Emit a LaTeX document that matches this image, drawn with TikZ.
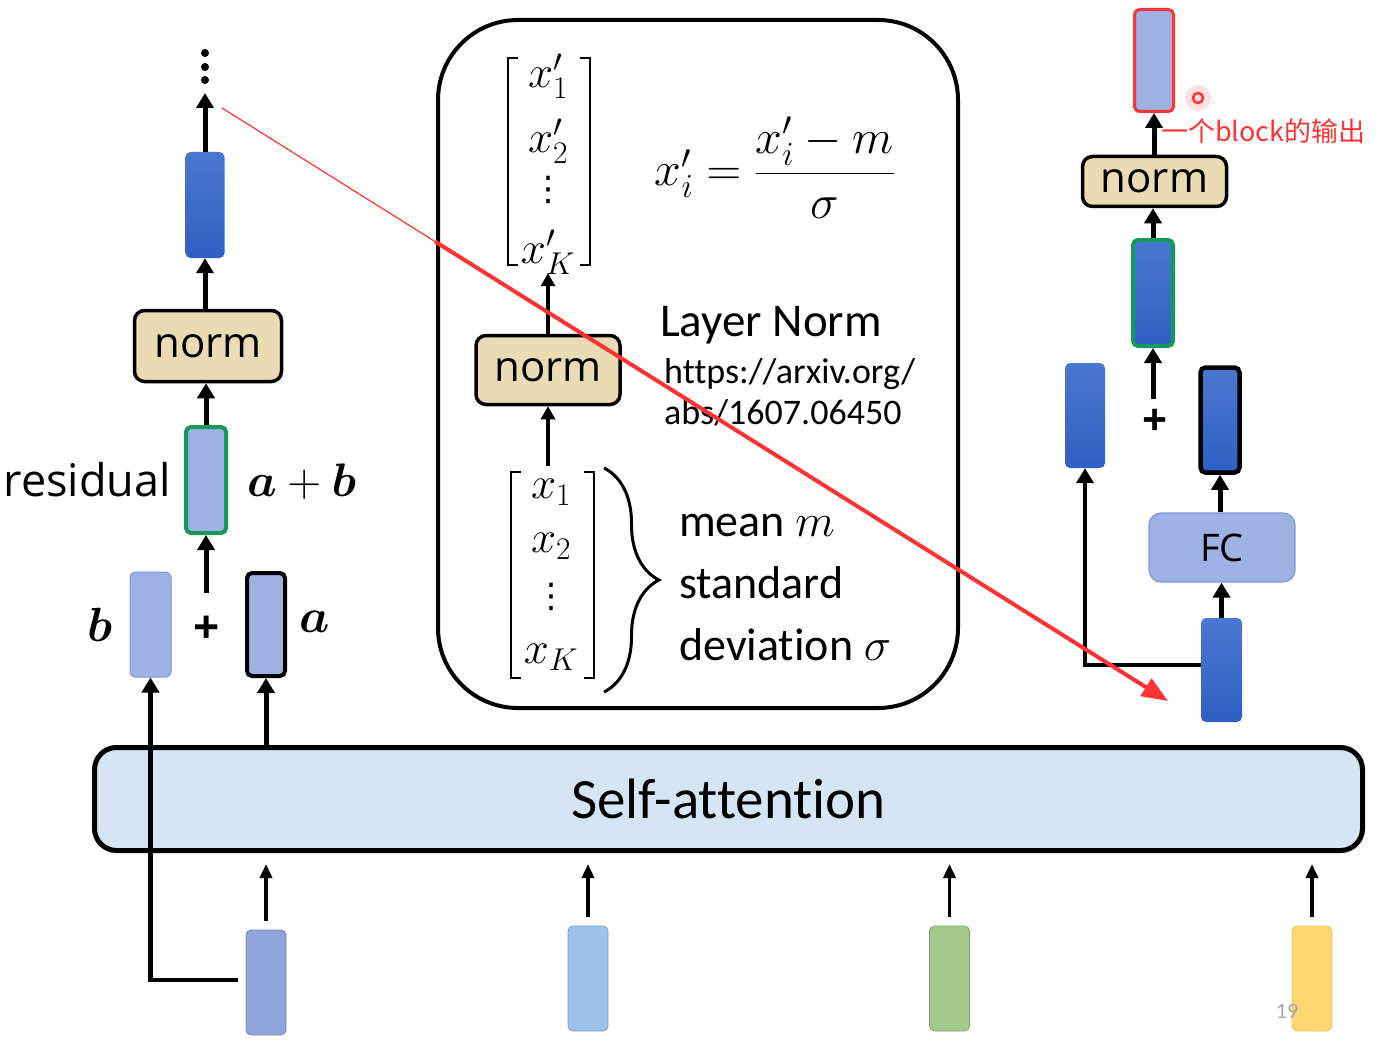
\RequirePackage{fix-cm}
\documentclass[tikz,border=0pt]{standalone}
\usepackage{amsmath,bm}
\usepackage{fontspec}
\newfontfamily\yahei{Open Sans}
\newfontfamily\calib[Ligatures=NoCommon]{Carlito}
\newfontfamily\cjk{Noto Sans CJK SC}
\newfontfamily\symb{DejaVu Sans}
\usetikzlibrary{arrows.meta,positioning,decorations.pathreplacing}

\definecolor{lightvec}{HTML}{9DB1E2}
\definecolor{lightedge}{HTML}{7F97D6}
\definecolor{darktop}{HTML}{4A78D0}
\definecolor{darkbot}{HTML}{2F5FC4}
\definecolor{normtan}{HTML}{EADBB4}
\definecolor{attnblue}{HTML}{D6E5F5}
\definecolor{resgreen}{HTML}{13995A}
\definecolor{annred}{HTML}{FF3333}
\definecolor{inpurple}{HTML}{8FA4DB}
\definecolor{inblue}{HTML}{9CC3EA}
\definecolor{ingreen}{HTML}{A3C98B}
\definecolor{inyellow}{HTML}{FFD770}

\begin{document}
\begin{tikzpicture}[x=1pt,y=-1pt,
    vec/.style={rounded corners=5pt,minimum width=40pt,minimum height=105pt,inner sep=0pt},
    lightv/.style={vec,fill=lightvec,draw=lightedge,line width=1pt},
    darkv/.style={vec,top color=darktop,bottom color=darkbot,draw=none},
    sumv/.style={vec,minimum height=106pt,line width=4pt},
    normbox/.style={draw,line width=3.5pt,fill=normtan,rounded corners=10pt,inner sep=0pt,
        font=\yahei\fontsize{42}{42}\selectfont},
    arr/.style={line width=5pt,-{Triangle[length=15pt,width=17pt]}},
    inarr/.style={line width=3.5pt,-{Triangle[length=14pt,width=12pt]}},
    bigmath/.style={font=\fontsize{48}{52}\selectfont},
    entry/.style={font=\fontsize{45}{45}\selectfont,inner sep=0pt},
    vdotsnode/.style={font=\symb\fontsize{34}{34}\selectfont,inner sep=0pt},
    bracketbox/.style={minimum width=82pt,minimum height=207pt,inner sep=0pt},
    sidetxt/.style={font=\calib\fontsize{46}{62}\selectfont,align=left,inner sep=0pt}]
    \useasboundingbox (0,0) rectangle (1378,1043);

    % self-attention layer and its inputs
    \node[draw,line width=5pt,fill=attnblue,rounded corners=22pt,minimum width=1268pt,minimum height=103pt,
        font=\calib\fontsize{57}{57}\selectfont] (attn) at (728.5,799) {Self-attention};
    \node[vec,fill=inpurple,draw=inpurple!80!black,line width=0.8pt] (in1) at (266,982.5) {};
    \node[vec,fill=inblue,draw=inblue!80!black,line width=0.8pt] (in2) at (588,978.5) {};
    \node[vec,fill=ingreen,draw=ingreen!80!black,line width=0.8pt] (in3) at (949.5,978.5) {};
    \node[vec,fill=inyellow,draw=inyellow!90!black,line width=0.8pt] (in4) at (1312,978.5) {};
    \foreach \i in {1,...,4}
        \draw[inarr,shorten <=9pt,shorten >=11pt] (in\i.north) -- (in\i.north |- attn.south);
    \node[font=\calib\fontsize{22}{22}\selectfont,text=black!35] (pagenum) at (1287,1011) {19};

    % left column: residual + norm
    \node[lightv,minimum width=41pt] (lb) at (150.5,624.5) {};
    \node[vec,fill=lightvec,draw=black,line width=4pt,minimum width=38pt,minimum height=103pt] (la) at (266,624.5) {};
    \node[font=\yahei\bfseries\fontsize{46}{46}\selectfont] (lplus) at (207,630) {+};
    \node[bigmath] (blabel) at (100,625) {$\bm{b}$};
    \node[bigmath] (alabel) at (315,622) {$\bm{a}$};
    \node[sumv,fill=lightvec,draw=resgreen] (lsum) at (206,480) {};
    \node[font=\yahei\fontsize{45}{45}\selectfont,anchor=east,inner sep=0pt] (residual) at (171,480) {residual};
    \node[font=\fontsize{47}{47}\selectfont,anchor=west,inner sep=0pt] (lab) at (247,482) {$\bm{a}+\bm{b}$};
    \node[normbox,minimum width=147pt,minimum height=71pt] (lnorm) at (208,346) {norm};
    \node[darkv,minimum width=39pt,minimum height=106pt] (ltop) at (205,205) {};
    \coordinate (ldots) at (205,93);
    \foreach \y in {53,67,80}
        \fill (205,\y) circle (4);

    \draw[arr] (la.south |- attn.north) -- (la.south);
    \draw[line width=4.5pt,-{Triangle[length=15pt,width=17pt]}] ([xshift=-8pt,yshift=2.5pt]in1.west) -| (lb.south);
    \draw[arr] ([yshift=37pt]lplus.center -| lsum.south) -- (lsum.south);
    \draw[arr] (lsum.north) -- (lsum.north |- lnorm.south);
    \draw[arr] (ltop.south |- lnorm.north) -- (ltop.south);
    \draw[arr] (ltop.north) -- (ldots);

    % middle panel: layer norm
    \draw[line width=4pt,rounded corners=80pt] (438,20) rectangle (958,708);
    \node[bracketbox] (vecout) at (549,161.5) {};
    \node[bracketbox,minimum width=83pt,minimum height=206pt] (vecin) at (552.5,575) {};
    \foreach \v in {vecout,vecin} {
        \draw[line width=2pt] ([xshift=10pt]\v.north west) -- (\v.north west) -- (\v.south west) -- ([xshift=10pt]\v.south west);
        \draw[line width=2pt] ([xshift=-10pt]\v.north east) -- (\v.north east) -- (\v.south east) -- ([xshift=-10pt]\v.south east);
    }
    \node[entry] (out1) at (548,76) {$x'_1$};
    \node[entry] (out2) at (548,141) {$x'_2$};
    \node[vdotsnode] (outd) at (548,190) {⋮};
    \node[entry] (outk) at (548,252) {$x'_K$};
    \node[entry] (in1e) at (551,492) {$x_1$};
    \node[entry] (in2e) at (551,546) {$x_2$};
    \node[vdotsnode] (inde) at (551,597) {⋮};
    \node[entry] (inke) at (551,657) {$x_K$};
    \node[normbox,minimum width=144pt,minimum height=69pt] (mnorm) at (548,370) {norm};
    \draw[line width=4pt,-{Triangle[length=13pt,width=14pt]}] ([yshift=6pt]mnorm.south |- vecin.north) -- (mnorm.south);
    \draw[line width=4pt,-{Triangle[length=13pt,width=14pt]}] (mnorm.north) -- ([yshift=-8pt]mnorm.north |- vecout.south);
    \draw[line width=3pt,decorate,decoration={brace,amplitude=55pt,aspect=0.5}] (604,468) -- (604,692);
    \node[bigmath] (formula) at (775,168) {$x'_i=\dfrac{x'_i-m}{\sigma}$};
    \node[sidetxt,font=\calib\fontsize{47}{47}\selectfont,anchor=west] (layernorm) at (660,325) {Layer Norm};
    \node[font=\calib\fontsize{36}{41}\selectfont,align=left,inner sep=0pt,anchor=west] (url) at (664,392)
        {https://arxiv.org/\\abs/1607.06450};
    \node[sidetxt,anchor=west] (stats) at (679,587)
        {mean $m$\\standard\\deviation $\sigma$};

    % right column: FC + residual + norm
    \node[darkv,minimum width=41pt,minimum height=104pt] (rin) at (1221.5,670) {};
    \node[fill=lightvec,draw=lightedge,line width=1.2pt,rounded corners=12pt,minimum width=146pt,minimum height=69pt,
        font=\yahei\fontsize{38}{38}\selectfont] (fc) at (1222,547.5) {FC};
    \node[vec,top color=darktop,bottom color=darkbot,draw=black,line width=4.5pt,minimum width=39pt,minimum height=105pt] (rfcout) at (1220,420) {};
    \node[darkv] (rres) at (1085,415.5) {};
    \node[font=\yahei\bfseries\fontsize{44}{44}\selectfont] (rplus) at (1155,422) {+};
    \node[sumv,top color=darktop,bottom color=darkbot,draw=resgreen] (rsum) at (1153,293) {};
    \node[normbox,minimum width=144pt,minimum height=50pt] (rnorm) at (1154.5,181.5) {norm};
    \node[vec,fill=lightvec,draw=annred,line width=3pt,minimum width=39pt,minimum height=102pt] (rout) at (1154,60.5) {};
    \node[font=\cjk\fontsize{27}{27}\selectfont,text=annred,anchor=west,inner sep=0pt] (note) at (1161,131) {一个block的输出};
    \fill[annred!15] (1198,98) circle (13);
    \draw[annred,line width=2.5pt] (1198,98) circle (5);

    \draw[arr] (rin.north) -- (rin.north |- fc.south);
    \draw[arr] (rfcout.south |- fc.north) -- (rfcout.south);
    \draw[line width=4.5pt,-{Triangle[length=15pt,width=17pt]}] ([yshift=5pt]rin.west) -| (rres.south);
    \draw[arr] ([yshift=23pt]rplus.center -| rsum.south) -- (rsum.south);
    \draw[arr] (rsum.north) -- (rsum.north |- rnorm.south);
    \draw[arr] (rout.south |- rnorm.north) -- (rout.south);

    % red pen stroke
    \coordinate (penstart) at (222,108);
    \coordinate (penmid) at (435,241.5);
    \coordinate (penend) at (1168,701);
    \draw[annred,line width=1.2pt] (penstart) -- (penmid);
    \draw[annred,line width=4pt,-{Triangle[length=26pt,width=20pt]}] (penmid) -- (penend);
\end{tikzpicture}
\end{document}
